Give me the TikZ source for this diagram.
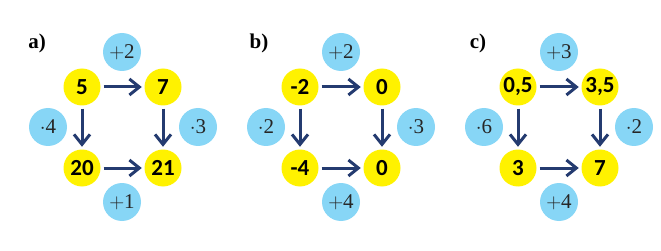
\documentclass[tikz,border=0pt]{standalone}
\usepackage{fontspec}
\setmainfont{Liberation Serif}
\newfontfamily\numfont{Carlito}
\usepackage{tikz}
\usetikzlibrary{arrows.meta,positioning}
\definecolor{valyellow}{HTML}{FFF200}
\definecolor{opblue}{HTML}{87D6F6}
\definecolor{arrnavy}{HTML}{243B70}
\tikzset{
  tri/val/.style={circle, fill=valyellow, minimum size=37pt, inner sep=0pt,
    font=\numfont\bfseries\fontsize{23}{23}\selectfont},
  tri/op/.style={circle, fill=opblue, minimum size=38pt, inner sep=0pt,
    text=black!85, font=\fontsize{21}{21}\selectfont},
  tri/label/.style={font=\bfseries\fontsize{21}{21}\selectfont, inner sep=0pt},
  tri/arr/.style={arrnavy, line width=3pt, shorten <=3pt, shorten >=2.5pt,
    -{Straight Barb[length=10pt, width=16pt]}}
}
\begin{document}
\begin{tikzpicture}[x=1pt, y=-1pt]
\useasboundingbox (0,0) rectangle (661,251);
% a)
\node[tri/label] (alab) at (37,43) {a)};
\node[tri/val] (atl) at (82,87) {5};
\node[tri/val] (atr) at (163,87) {7};
\node[tri/val] (abl) at (82,168) {20};
\node[tri/val] (abr) at (163,168) {21};
\node[tri/op] (atop) at (122,52) {$+$2};
\node[tri/op] (aleft) at (48,127) {$\cdot$4};
\node[tri/op] (aright) at (198,127) {$\cdot$3};
\node[tri/op] (abot) at (122,202) {$+$1};
\draw[tri/arr] (atl) -- (atr);
\draw[tri/arr] (atl) -- (abl);
\draw[tri/arr] (atr) -- (abr);
\draw[tri/arr] (abl) -- (abr);
% b)
\node[tri/label] (blab) at (259,43) {b)};
\node[tri/val] (btl) at (300,87) {-2};
\node[tri/val] (btr) at (382,87) {0};
\node[tri/val] (bbl) at (300,168) {-4};
\node[tri/val] (bbr) at (382,168) {0};
\node[tri/op] (btop) at (341,52) {$+$2};
\node[tri/op] (bleft) at (266,127) {$\cdot$2};
\node[tri/op] (bright) at (416,127) {$\cdot$3};
\node[tri/op] (bbot) at (341,202) {$+$4};
\draw[tri/arr] (btl) -- (btr);
\draw[tri/arr] (btl) -- (bbl);
\draw[tri/arr] (btr) -- (bbr);
\draw[tri/arr] (bbl) -- (bbr);
% c)
\node[tri/label] (clab) at (478,43) {c)};
\node[tri/val] (ctl) at (518,87) {0,5};
\node[tri/val] (ctr) at (600,87) {3,5};
\node[tri/val] (cbl) at (518,168) {3};
\node[tri/val] (cbr) at (600,168) {7};
\node[tri/op] (ctop) at (559,52) {$+$3};
\node[tri/op] (cleft) at (484,127) {$\cdot$6};
\node[tri/op] (cright) at (634,127) {$\cdot$2};
\node[tri/op] (cbot) at (559,202) {$+$4};
\draw[tri/arr] (ctl) -- (ctr);
\draw[tri/arr] (ctl) -- (cbl);
\draw[tri/arr] (ctr) -- (cbr);
\draw[tri/arr] (cbl) -- (cbr);
\end{tikzpicture}
\end{document}
